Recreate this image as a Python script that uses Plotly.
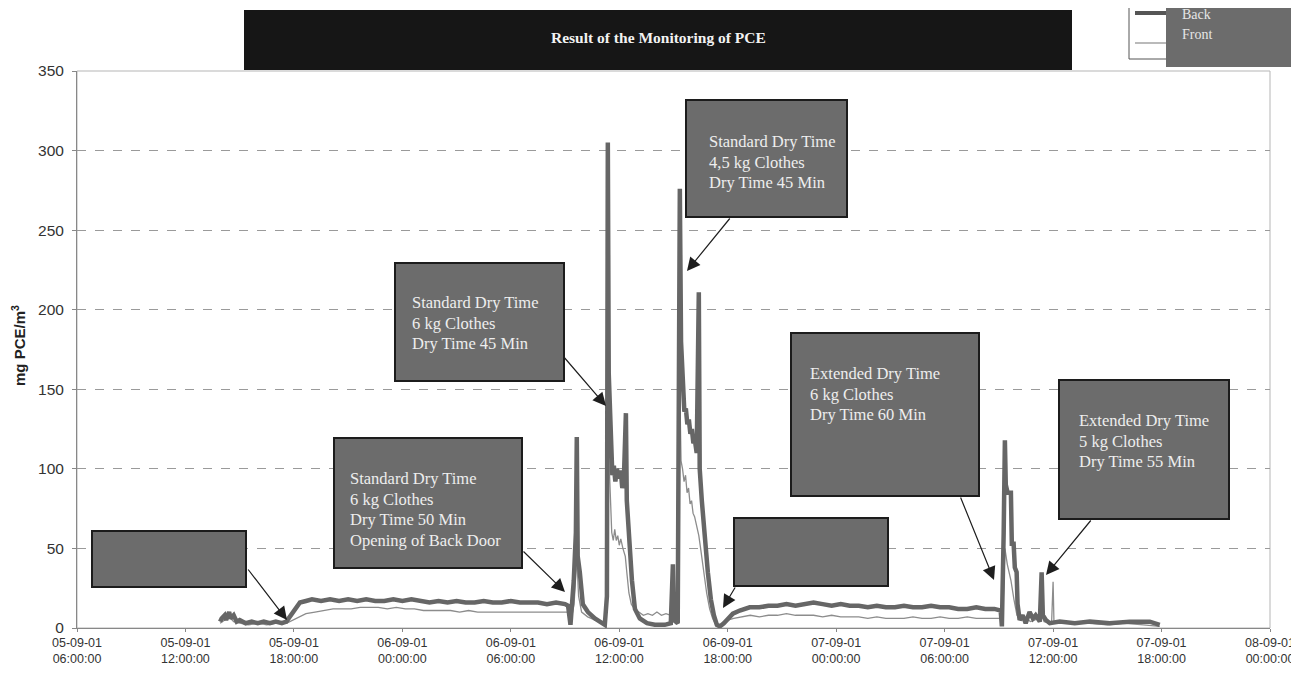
import plotly.graph_objects as go
import pandas as pd

# ---- data (mg PCE/m3) ----
back_time = [
    "09-05 13:55", "09-05 14:00", "09-05 14:10", "09-05 14:15", "09-05 14:25", "09-05 14:30",
    "09-05 14:40", "09-05 14:50", "09-05 15:00", "09-05 15:20", "09-05 15:40", "09-05 16:00",
    "09-05 16:20", "09-05 16:40", "09-05 17:00", "09-05 17:20", "09-05 17:35", "09-05 17:50",
    "09-05 18:05", "09-05 18:20", "09-05 18:40", "09-05 19:00", "09-05 19:30", "09-05 20:00",
    "09-05 20:30", "09-05 21:00", "09-05 21:30", "09-05 22:00", "09-05 22:30", "09-05 23:00",
    "09-05 23:30", "09-06 00:00", "09-06 00:30", "09-06 01:00", "09-06 01:30", "09-06 02:00",
    "09-06 02:30", "09-06 03:00", "09-06 03:30", "09-06 04:00", "09-06 04:30", "09-06 05:00",
    "09-06 05:30", "09-06 06:00", "09-06 06:30", "09-06 07:00", "09-06 07:30", "09-06 08:00",
    "09-06 08:30", "09-06 09:00", "09-06 09:10", "09-06 09:18", "09-06 09:29", "09-06 09:36",
    "09-06 09:39", "09-06 09:42", "09-06 09:49", "09-06 09:59", "09-06 10:16", "09-06 10:39",
    "09-06 11:02", "09-06 11:12", "09-06 11:19", "09-06 11:22", "09-06 11:25", "09-06 11:32",
    "09-06 11:37", "09-06 11:42", "09-06 11:47", "09-06 11:52", "09-06 11:59", "09-06 12:05",
    "09-06 12:10", "09-06 12:15", "09-06 12:22",
    "09-06 12:25", "09-06 12:32", "09-06 12:42", "09-06 12:52", "09-06 13:08", "09-06 13:32",
    "09-06 13:58", "09-06 14:31", "09-06 14:51", "09-06 14:58", "09-06 15:01", "09-06 15:14",
    "09-06 15:21", "09-06 15:25", "09-06 15:31", "09-06 15:36", "09-06 15:41", "09-06 15:46",
    "09-06 15:51", "09-06 15:56", "09-06 16:01",
    "09-06 16:06", "09-06 16:11", "09-06 16:17", "09-06 16:24", "09-06 16:27", "09-06 16:34", "09-06 16:44",
    "09-06 16:54", "09-06 17:04", "09-06 17:14", "09-06 17:24", "09-06 17:34", "09-06 17:47",
    "09-06 18:00", "09-06 18:17", "09-06 18:40", "09-06 19:13", "09-06 19:45", "09-06 20:15",
    "09-06 20:45", "09-06 21:15", "09-06 21:45", "09-06 22:15", "09-06 22:45", "09-06 23:15",
    "09-06 23:45", "09-07 00:15", "09-07 00:45", "09-07 01:15", "09-07 01:45", "09-07 02:15",
    "09-07 02:45", "09-07 03:15", "09-07 03:45", "09-07 04:15", "09-07 04:45", "09-07 05:15",
    "09-07 05:45", "09-07 06:15", "09-07 06:45", "09-07 07:15", "09-07 07:45", "09-07 08:15",
    "09-07 08:45", "09-07 09:06", "09-07 09:10", "09-07 09:16", "09-07 09:20", "09-07 09:23",
    "09-07 09:29", "09-07 09:40", "09-07 09:43", "09-07 09:49", "09-07 09:53", "09-07 09:59",
    "09-07 10:02", "09-07 10:09", "09-07 10:19", "09-07 10:29", "09-07 10:42", "09-07 10:53",
    "09-07 11:02", "09-07 11:16", "09-07 11:22", "09-07 11:26", "09-07 11:36", "09-07 11:49",
    "09-07 12:22", "09-07 13:12", "09-07 14:02", "09-07 15:08", "09-07 16:14", "09-07 17:21",
    "09-07 17:54",
]
back_mgm3 = [
    4, 6, 8, 5, 10, 6,
    8, 4, 5, 3, 4, 3,
    4, 3, 4, 3, 4, 8,
    13, 16, 17, 18, 17, 18,
    17, 18, 17, 18, 17, 17,
    18, 17, 18, 17, 16, 17,
    16, 17, 16, 16, 17, 16,
    16, 17, 16, 16, 16, 15,
    16, 15, 14, 2, 30, 60,
    120, 45, 35, 15, 10, 6,
    3, 2, 20, 305, 160, 108,
    96, 102, 92, 100, 94, 99,
    88, 92, 135,
    80, 55, 30, 12, 6, 3,
    2, 2, 3, 40, 5, 3,
    276, 180, 145, 136, 138, 128,
    131, 122, 125,
    116, 118, 110, 211, 100, 80, 55,
    35, 18, 8, 2, 1, 3,
    6, 9, 11, 13, 13, 14,
    14, 15, 14, 15, 16, 15,
    14, 15, 14, 14, 13, 14,
    13, 13, 14, 13, 13, 14,
    13, 13, 12, 12, 13, 12,
    12, 11, 1, 60, 118, 90,
    85, 85, 53, 53, 38, 35,
    15, 5, 8, 3, 10, 6,
    8, 4, 35, 8, 5, 3,
    4, 3, 4, 3, 4, 4,
    2,
]

front_time = [
    "09-05 13:55", "09-05 14:10", "09-05 14:25", "09-05 14:40", "09-05 15:00", "09-05 15:30",
    "09-05 16:00", "09-05 16:30", "09-05 17:00", "09-05 17:35", "09-05 17:55", "09-05 18:15",
    "09-05 18:40", "09-05 19:10", "09-05 19:40", "09-05 20:10", "09-05 20:40", "09-05 21:10",
    "09-05 21:40", "09-05 22:10", "09-05 22:40", "09-05 23:10", "09-05 23:40", "09-06 00:10",
    "09-06 00:40", "09-06 01:10", "09-06 01:40", "09-06 02:10", "09-06 02:40", "09-06 03:10",
    "09-06 03:40", "09-06 04:10", "09-06 04:40", "09-06 05:10", "09-06 05:40", "09-06 06:10",
    "09-06 06:40", "09-06 07:10", "09-06 07:40", "09-06 08:10", "09-06 08:40", "09-06 09:10",
    "09-06 09:18", "09-06 09:30", "09-06 09:39", "09-06 09:45", "09-06 09:55", "09-06 10:15",
    "09-06 10:40", "09-06 11:05", "09-06 11:15", "09-06 11:23", "09-06 11:30", "09-06 11:35",
    "09-06 11:40", "09-06 11:45", "09-06 11:50", "09-06 11:55", "09-06 12:00", "09-06 12:05",
    "09-06 12:12", "09-06 12:20", "09-06 12:25", "09-06 12:32", "09-06 12:40", "09-06 12:50",
    "09-06 13:05", "09-06 13:20", "09-06 13:35", "09-06 13:50", "09-06 14:05", "09-06 14:20",
    "09-06 14:35", "09-06 14:50", "09-06 15:05", "09-06 15:15", "09-06 15:21", "09-06 15:25",
    "09-06 15:30", "09-06 15:35", "09-06 15:40", "09-06 15:45", "09-06 15:50", "09-06 15:55",
    "09-06 16:00", "09-06 16:05", "09-06 16:10", "09-06 16:17", "09-06 16:24", "09-06 16:30",
    "09-06 16:40", "09-06 16:50", "09-06 17:00", "09-06 17:10", "09-06 17:20", "09-06 17:30",
    "09-06 17:45", "09-06 18:00", "09-06 18:20", "09-06 18:45", "09-06 19:15", "09-06 19:45",
    "09-06 20:15", "09-06 20:45", "09-06 21:15", "09-06 21:45", "09-06 22:15", "09-06 22:45",
    "09-06 23:15", "09-06 23:45", "09-07 00:15", "09-07 00:45", "09-07 01:15", "09-07 01:45",
    "09-07 02:15", "09-07 02:45", "09-07 03:15", "09-07 03:45", "09-07 04:15", "09-07 04:45",
    "09-07 05:15", "09-07 05:45", "09-07 06:15", "09-07 06:45", "09-07 07:15", "09-07 07:45",
    "09-07 08:15", "09-07 08:45", "09-07 09:06", "09-07 09:12", "09-07 09:20", "09-07 09:28",
    "09-07 09:40", "09-07 09:50", "09-07 10:00", "09-07 10:15", "09-07 10:30", "09-07 10:45",
    "09-07 11:00", "09-07 11:20", "09-07 11:30", "09-07 11:55", "09-07 12:00", "09-07 12:03",
    "09-07 12:20", "09-07 13:00", "09-07 14:00", "09-07 15:00", "09-07 16:00", "09-07 17:00",
    "09-07 17:54",
]
front_mgm3 = [
    3, 5, 7, 4, 3, 2,
    3, 2, 3, 3, 5, 7,
    9, 10, 11, 12, 12, 12,
    13, 13, 13, 12, 13, 12,
    12, 11, 11, 11, 11, 10,
    11, 10, 10, 10, 10, 10,
    10, 10, 10, 10, 10, 10,
    3, 15, 45, 20, 10, 7,
    5, 4, 5, 120, 85, 60,
    55, 62, 55, 58, 52, 56,
    50, 45, 35, 22, 15, 12,
    10, 8, 9, 8, 10, 8,
    9, 8, 7, 5, 150, 105,
    100, 92, 96, 85, 88, 78,
    80, 72, 70, 64, 58, 50,
    35, 22, 12, 6, 2, 1,
    3, 5, 6, 7, 8, 7,
    8, 8, 9, 8, 8, 8,
    7, 8, 7, 7, 7, 6,
    7, 6, 6, 6, 7, 6,
    6, 7, 6, 6, 7, 6,
    6, 6, 6, 2, 50, 40,
    30, 18, 8, 5, 6, 4,
    5, 10, 4, 3, 29, 3,
    4, 3, 3, 2, 3, 2,
    1,
]

x_start, x_end = "2001-09-05 06:00", "2001-09-08 00:00"

# positions are given in page pixels; the page body puts the figure at (8, 8)
OFF = 8
W, H = 1299, 675
PL, PR, PT, PB = 77, 1270, 71, 628


def px(x):
    return (x - PL) / (PR - PL)


def py(y):
    return (PB - y) / (PB - PT)


SERIF = "Liberation Serif, Times New Roman, serif"
SANS = "Liberation Sans, Arial, sans-serif"
BOX_FILL = "#6c6c6c"

fig = go.Figure()

fig.add_trace(go.Scatter(
    x=pd.to_datetime(["2001-" + t for t in front_time]),
    y=front_mgm3,
    mode="lines",
    line=dict(color="#8c8c8c", width=1.3),
    name="Front",
))
fig.add_trace(go.Scatter(
    x=pd.to_datetime(["2001-" + t for t in back_time]),
    y=back_mgm3,
    mode="lines",
    line=dict(color="#666666", width=4.5),
    name="Back",
))

shapes = []
annotations = []

# plot frame (light)
shapes.append(dict(type="rect", xref="paper", yref="paper", x0=0, x1=1, y0=0, y1=1,
                   line=dict(color="#b5b5b5", width=1), layer="below"))

# title bar
shapes.append(dict(type="rect", xref="paper", yref="paper",
                   x0=px(244), x1=px(1072), y0=py(70), y1=py(10),
                   fillcolor="#161616", line=dict(width=0)))
annotations.append(dict(xref="paper", yref="paper", x=px(658), y=py(37),
                        xanchor="center", yanchor="middle",
                        text="<b>Result of the Monitoring of PCE</b>", showarrow=False,
                        font=dict(family=SERIF, size=15.5, color="#f2f2f2")))

# legend block
shapes.append(dict(type="rect", xref="paper", yref="paper",
                   x0=px(1129), x1=px(1305), y0=py(59), y1=py(6),
                   fillcolor="white", line=dict(color="#555555", width=1)))
shapes.append(dict(type="rect", xref="paper", yref="paper",
                   x0=px(1166), x1=px(1300), y0=py(67), y1=py(6),
                   fillcolor=BOX_FILL, line=dict(width=0)))
shapes.append(dict(type="line", xref="paper", yref="paper",
                   x0=px(1135), x1=px(1166), y0=py(13), y1=py(13),
                   line=dict(color="#555555", width=4)))
shapes.append(dict(type="line", xref="paper", yref="paper",
                   x0=px(1135), x1=px(1166), y0=py(43), y1=py(43),
                   line=dict(color="#8c8c8c", width=1.2)))
annotations.append(dict(xref="paper", yref="paper", x=px(1180), y=py(15),
                        xanchor="left", yanchor="middle",
                        text="Back", showarrow=False,
                        font=dict(family=SERIF, size=14, color="#e6e6e6")))
annotations.append(dict(xref="paper", yref="paper", x=px(1180), y=py(35),
                        xanchor="left", yanchor="middle",
                        text="Front", showarrow=False,
                        font=dict(family=SERIF, size=14, color="#e6e6e6")))

# callout boxes: (left, top, right, bottom, text-left, text-top, lines)
callouts = [
    (92, 531, 246, 587, None, None, []),
    (334, 438, 522, 568, 348, 467,
     ["Standard Dry Time", "6 kg Clothes", "Dry Time 50 Min", "Opening of Back Door"]),
    (395, 263, 564, 381, 410, 291,
     ["Standard Dry Time", "6 kg Clothes", "Dry Time 45 Min"]),
    (686, 100, 847, 217, 707, 130,
     ["Standard Dry Time", "4,5 kg Clothes", "Dry Time 45 Min"]),
    (734, 518, 888, 586, None, None, []),
    (791, 333, 979, 496, 808, 362,
     ["Extended Dry Time", "6 kg Clothes", "Dry Time 60 Min"]),
    (1059, 380, 1229, 519, 1077, 409,
     ["Extended Dry Time", "5 kg Clothes", "Dry Time 55 Min"]),
]
for x0, y0, x1, y1, tx, ty, lines in callouts:
    shapes.append(dict(type="rect", xref="paper", yref="paper",
                       x0=px(x0), x1=px(x1), y0=py(y1), y1=py(y0),
                       fillcolor=BOX_FILL, line=dict(color="#1c1c1c", width=2)))
    for i, ln in enumerate(lines):
        annotations.append(dict(xref="paper", yref="paper", x=px(tx), y=py(ty + i * 20.7),
                                xanchor="left", yanchor="top", text=ln, showarrow=False,
                                font=dict(family=SERIF, size=16.5, color="#eeeeee")))

# arrows: (tail x, tail y, tip x, tip y)
arrows = [
    (247, 568, 287, 620),
    (522, 550, 565, 592),
    (563, 356, 606, 406),
    (731, 217, 687, 271),
    (736, 586, 723, 608),
    (960, 496, 994, 580),
    (1092, 519, 1046, 575),
]
for tx0, ty0, hx, hy in arrows:
    annotations.append(dict(xref="paper", yref="paper", x=px(hx), y=py(hy),
                            ax=tx0 - hx, ay=ty0 - hy, text="", showarrow=True,
                            arrowhead=2, arrowsize=2.2, arrowwidth=1.2,
                            arrowcolor="#1e1e1e", standoff=0))

# y axis title
annotations.append(dict(xref="paper", yref="paper", x=px(18), y=py(346),
                        xanchor="center", yanchor="middle",
                        text="<b>mg PCE/m<sup>3</sup></b>", textangle=-90, showarrow=False,
                        font=dict(family=SANS, size=15, color="#222222")))

# figure sized so that figure + 8px body margins fill the 1299x675 window exactly
fig.update_layout(
    width=W - 2 * OFF, height=H - 2 * OFF,
    margin=dict(l=PL - OFF, r=(W - OFF) - PR, t=PT - OFF, b=(H - OFF) - PB),
    paper_bgcolor="white",
    plot_bgcolor="white",
    showlegend=False,
    shapes=shapes,
    annotations=annotations,
    xaxis=dict(
        type="date",
        range=[x_start, x_end],
        tick0=x_start,
        dtick=6 * 3600 * 1000,
        tickformat="%d-%m-%y<br>%H:%M:%S",
        ticks="outside", ticklen=3, tickcolor="#888888",
        ticklabeloverflow="allow",
        automargin=False,
        showline=True, linecolor="#888888", linewidth=1,
        showgrid=False, zeroline=False,
        tickfont=dict(family=SANS, size=12.5, color="#333333"),
    ),
    yaxis=dict(
        range=[0, 350],
        dtick=50,
        ticks="outside", ticklen=4, tickcolor="#888888",
        ticklabelstandoff=5,
        automargin=False,
        showline=True, linecolor="#888888", linewidth=1,
        showgrid=True, gridcolor="#9a9a9a", griddash="dash", gridwidth=1,
        zeroline=False,
        tickfont=dict(family=SANS, size=15.5, color="#333333"),
    ),
)

fig.write_html("out.html")
